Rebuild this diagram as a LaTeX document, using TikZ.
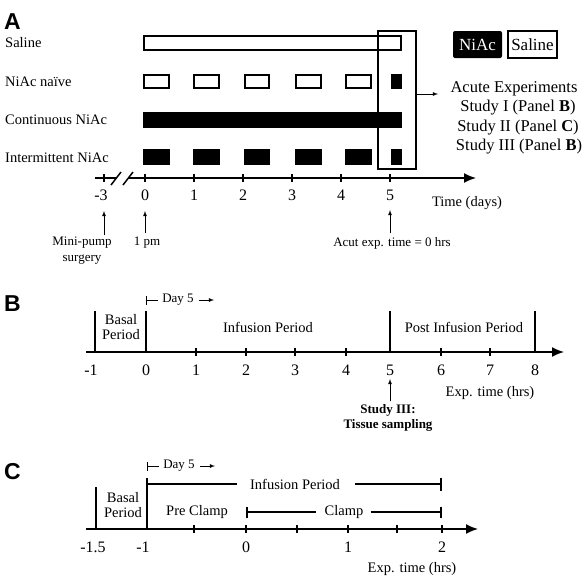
\documentclass[tikz,border=0pt]{standalone}
\usepackage{fontspec}
\setmainfont{Liberation Serif}
\newfontfamily\panelfont{Liberation Sans}
\usetikzlibrary{positioning,arrows.meta}

\begin{document}
\begin{tikzpicture}[x=1pt,y=-1pt]
	\tikzstyle{lab}=[inner sep=0pt, font=\fontsize{14.5}{15}\selectfont]
	\tikzstyle{small}=[inner sep=0pt, font=\fontsize{13}{16}\selectfont]
	\tikzstyle{num}=[inner sep=0pt, font=\fontsize{16}{18}\selectfont]
	\tikzstyle{big}=[inner sep=0pt, font=\fontsize{16.5}{19}\selectfont]
	\tikzstyle{panel}=[inner sep=0pt, anchor=west, font=\panelfont\bfseries\fontsize{23}{25}\selectfont]
	\tikzstyle{axis}=[line width=1.6pt, -{Latex[length=12pt,width=10pt]}]
	\tikzstyle{tick}=[line width=1.5pt]
	\tikzstyle{connect}=[-latex, line width=0.8pt]
	\tikzstyle{period}=[line width=1.6pt]
	\tikzstyle{openbar}=[draw=black, line width=1.2pt, fill=white]
	\tikzstyle{fullbar}=[draw=black, line width=1.2pt, fill=black]
	\useasboundingbox (0,0) rectangle (584,576);

	% panel A
	\node[panel] (A) at (4,22) {A};
	\node[lab, anchor=base west] (rowsal) at (5,47) {Saline};
	\node[lab, anchor=base west] (rownaive) at (5,86) {NiAc naïve};
	\node[lab, anchor=base west] (rowcont) at (5,124) {Continuous NiAc};
	\node[lab, anchor=base west] (rowint) at (5,162) {Intermittent NiAc};
	\draw[openbar] (144,36) rectangle (401,50);
	\draw[openbar] (144,75) rectangle (169,88) (194,75) rectangle (219,88) (245,75) rectangle (269,88)
		(296,75) rectangle (321,88) (346,75) rectangle (371,88);
	\draw[fullbar] (392,75) rectangle (401,88);
	\draw[fullbar] (144,113) rectangle (401,127);
	\draw[fullbar] (144,150) rectangle (169,164) (194,150) rectangle (219,164) (245,150) rectangle (269,164)
		(296,150) rectangle (321,164) (346,150) rectangle (371,164) (392,150) rectangle (401,164);
	\node[draw, line width=1.2pt, inner sep=0pt, minimum width=38pt, minimum height=138pt] (win) at (397,100) {};
	\node[fill=black, text=white, rounded corners=2pt, inner sep=0pt, minimum width=49pt, minimum height=27pt,
		font=\fontsize{17}{19}\selectfont] (legniac) at (477.5,44.5) {NiAc};
	\node[draw, line width=1.2pt, inner sep=0pt, minimum width=49pt, minimum height=27pt,
		font=\fontsize{17}{19}\selectfont] (legsal) at (532.5,44.5) {Saline};
	\node[big] (acute) at (514,89) {Acute Experiments};
	\node[big] (stone) at (518,108) {Study I (Panel \textbf{B})};
	\node[big] (sttwo) at (518,128) {Study II (Panel \textbf{C})};
	\node[big] (stthree) at (519,147) {Study III (Panel \textbf{B})};
	\coordinate (acutein) at (438,94);
	\draw[connect] (win.east |- acutein) -- (acutein);

	\draw[line width=1.6pt] (95,178) -- (117,178);
	\draw[axis] (128,178) -- (476,178);
	\draw[tick] (111,185) -- (121,172) (123,185) -- (133,172);
	\draw[tick] (104,174) -- (104,182) (145,174) -- (145,182) (194,174) -- (194,182) (243,174) -- (243,182)
		(292,174) -- (292,182) (341,174) -- (341,182) (390,174) -- (390,182);
	\node[num] (dm3) at (101,195) {-3};
	\node[num] (d0) at (145,195) {0};
	\node[num] (d1) at (194,195) {1};
	\node[num] (d2) at (243,195) {2};
	\node[num] (d3) at (292,195) {3};
	\node[num] (d4) at (341,195) {4};
	\node[num] (d5) at (390,195) {5};
	\node[lab] (tdays) at (467,203) {Time (days)};
	\coordinate (pumpup) at (104,211);
	\coordinate (pmup) at (145,211);
	\coordinate (acutup) at (390,210);
	\node[small, align=center] (pump) at (82,251) {Mini-pump\\surgery};
	\node[small] (onepm) at (147,243) {1 pm};
	\node[small] (acut) at (392,243) {Acut exp. time = 0 hrs};
	\draw[connect, shorten <=2pt] (pump.north -| pumpup) -- (pumpup);
	\draw[connect, shorten <=4pt] (onepm.north -| pmup) -- (pmup);
	\draw[connect, shorten <=4pt] (acut.north -| acutup) -- (acutup);

	% panel B
	\node[panel] (B) at (4,304) {B};
	\draw[axis] (86,352) -- (564,352);
	\draw[period] (95,311) -- (95,352) (146,311) -- (146,352) (390,311) -- (390,352) (535,311) -- (535,352);
	\draw[tick] (196,348) -- (196,356) (246,348) -- (246,356) (295,348) -- (295,356) (346,348) -- (346,356)
		(441,348) -- (441,356) (490,348) -- (490,356);
	\node[num] (hm1) at (91,370) {-1};
	\node[num] (h0) at (146,370) {0};
	\node[num] (h1) at (196,370) {1};
	\node[num] (h2) at (246,370) {2};
	\node[num] (h3) at (295,370) {3};
	\node[num] (h4) at (346,370) {4};
	\node[num] (h5) at (390,370) {5};
	\node[num] (h6) at (441,370) {6};
	\node[num] (h7) at (490,370) {7};
	\node[num] (h8) at (535,370) {8};
	\node[lab, align=center] (basalb) at (121,327) {Basal\\Period};
	\node[lab] (infb) at (268,327) {Infusion Period};
	\node[lab] (postb) at (464,327) {Post Infusion Period};
	\node[small] (dayb) at (178,300) {Day 5};
	\coordinate (daybstart) at (146,300);
	\coordinate (daybend) at (214,300);
	\draw[line width=0.9pt, {Bar[width=9pt]}-, shorten >=4pt] (daybstart) -- (dayb.west);
	\draw[connect, shorten <=5pt] (dayb.east) -- (daybend);
	\node[lab] (expb) at (490,393) {Exp. time (hrs)};
	\coordinate (studyup) at (390,379);
	\node[small, align=center, font=\fontsize{13}{15}\selectfont\bfseries] (study) at (388,418) {Study III:\\Tissue sampling};
	\draw[connect, shorten <=3pt] (study.north -| studyup) -- (studyup);

	% panel C
	\node[panel] (C) at (4,472) {C};
	\draw[axis] (86,529) -- (478,529);
	\draw[period] (96,487) -- (96,529) (147,478) -- (147,529);
	\draw[tick] (194,525) -- (194,533) (246,525) -- (246,533) (297,525) -- (297,533) (348,525) -- (348,533)
		(397,525) -- (397,533) (442,525) -- (442,533);
	\node[num] (cm15) at (93,547) {-1.5};
	\node[num] (cm1) at (143,547) {-1};
	\node[num] (c0) at (246,547) {0};
	\node[num] (c1) at (348,547) {1};
	\node[num] (c2) at (442,547) {2};
	\node[lab, align=center] (basalc) at (123,505) {Basal\\Period};
	\node[lab] (prec) at (197,512) {Pre Clamp};
	\node[lab] (infc) at (295,484) {Infusion Period};
	\node[lab] (clampc) at (344,512) {Clamp};
	\coordinate (infstart) at (147,484);
	\coordinate (infend) at (442,484);
	\coordinate (clampstart) at (246,512);
	\coordinate (clampend) at (442,512);
	\draw[period, shorten >=13pt] (infstart) -- (infc.west);
	\draw[period, -{Bar[width=13pt]}, shorten <=15pt] (infc.east) -- (infend);
	\draw[period, {Bar[width=11pt]}-, shorten >=8pt] (clampstart) -- (clampc.west);
	\draw[period, -{Bar[width=11pt]}, shorten <=7pt] (clampc.east) -- (clampend);
	\node[small] (dayc) at (179,466) {Day 5};
	\coordinate (daycstart) at (147,466);
	\coordinate (daycend) at (215,466);
	\draw[line width=0.9pt, {Bar[width=9pt]}-, shorten >=4pt] (daycstart) -- (dayc.west);
	\draw[connect, shorten <=5pt] (dayc.east) -- (daycend);
	\node[lab] (expc) at (412,569) {Exp. time (hrs)};
\end{tikzpicture}
\end{document}
